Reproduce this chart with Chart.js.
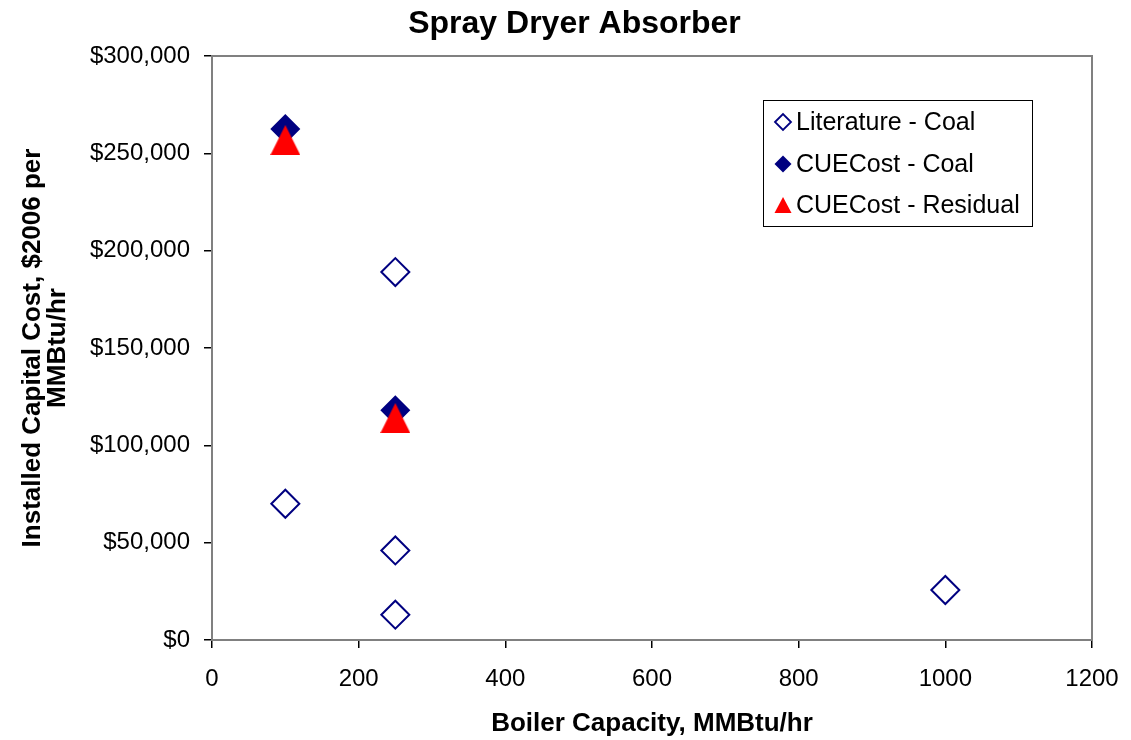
<!DOCTYPE html>
<html>
<head>
<meta charset="utf-8">
<title>Spray Dryer Absorber</title>
<script src="https://cdn.jsdelivr.net/npm/chart.js@4/dist/chart.umd.min.js"></script>
<style>
  html, body { margin: 0; padding: 0; background: #fff; }
  #wrap { width: 1131px; height: 740px; }
</style>
</head>
<body>
<div id="wrap"><canvas id="sprayChart" width="1131" height="740"></canvas></div>
<script>
// Boiler capacity (MMBtu/hr) and installed cost ($2006 per MMBtu/hr)
const literatureCapacity = [100, 250, 250, 250, 1000];
const literatureCost     = [70000, 189000, 46000, 13000, 25700];

const cueCoalCapacity = [100, 250];
const cueCoalCost     = [262500, 118000];

const cueResidualCapacity = [100, 250];
const cueResidualCost     = [256800, 114000];

const seriesLabels = ['Literature - Coal', 'CUECost - Coal', 'CUECost - Residual'];

const xTicks = [0, 200, 400, 600, 800, 1000, 1200];
const yTicks = [0, 50000, 100000, 150000, 200000, 250000, 300000];

const FONT = "'Liberation Sans', Arial, Helvetica, sans-serif";
const NAVY = '#000080';
const RED = '#ff0000';

function toPoints(xs, ys) {
    return xs.map((x, i) => ({ x: x, y: ys[i] }));
}

// Excel-style triangle marker (box centred on the value)
function triangleMarker(size, color) {
    const c = document.createElement('canvas');
    c.width = size;
    c.height = size;
    const g = c.getContext('2d');
    g.fillStyle = color;
    g.beginPath();
    g.moveTo(size / 2, 0);
    g.lineTo(size, size);
    g.lineTo(0, size);
    g.closePath();
    g.fill();
    return c;
}

// gray frame around the plot area
const plotFrame = {
    id: 'plotFrame',
    beforeDatasetsDraw(chart) {
        const a = chart.chartArea;
        const ctx = chart.ctx;
        ctx.save();
        ctx.strokeStyle = '#808080';
        ctx.lineWidth = 2;
        ctx.strokeRect(a.left, a.top, a.right - a.left, a.bottom - a.top);
        ctx.restore();
    }
};

// boxed legend inside the plot
const boxLegend = {
    id: 'boxLegend',
    afterDraw(chart) {
        const ctx = chart.ctx;
        const box = { left: 763, top: 100, width: 269, height: 126 };
        const rows = [122, 164, 205];
        const markX = 783;
        ctx.save();
        ctx.fillStyle = '#fff';
        ctx.fillRect(box.left, box.top, box.width, box.height);
        ctx.strokeStyle = '#000';
        ctx.lineWidth = 1;
        ctx.strokeRect(box.left + 0.5, box.top + 0.5, box.width, box.height);

        // hollow diamond
        let y = rows[0];
        ctx.beginPath();
        ctx.moveTo(markX - 8, y); ctx.lineTo(markX, y - 8);
        ctx.lineTo(markX + 8, y); ctx.lineTo(markX, y + 8);
        ctx.closePath();
        ctx.strokeStyle = NAVY;
        ctx.lineWidth = 1.8;
        ctx.stroke();

        // filled diamond
        y = rows[1];
        ctx.beginPath();
        ctx.moveTo(markX - 8.5, y); ctx.lineTo(markX, y - 8.5);
        ctx.lineTo(markX + 8.5, y); ctx.lineTo(markX, y + 8.5);
        ctx.closePath();
        ctx.fillStyle = NAVY;
        ctx.fill();

        // triangle
        y = rows[2];
        ctx.beginPath();
        ctx.moveTo(markX, y - 8); ctx.lineTo(markX + 8.5, y + 8);
        ctx.lineTo(markX - 8.5, y + 8);
        ctx.closePath();
        ctx.fillStyle = RED;
        ctx.fill();

        ctx.fillStyle = '#000';
        ctx.font = '25px ' + FONT;
        ctx.textBaseline = 'middle';
        ctx.textAlign = 'left';
        seriesLabels.forEach((label, i) => ctx.fillText(label, 796, rows[i] + 1));
        ctx.restore();
    }
};

const ctx = document.getElementById('sprayChart');

new Chart(ctx, {
    type: 'scatter',
    data: {
        datasets: [
            {
                label: seriesLabels[0],
                data: toPoints(literatureCapacity, literatureCost),
                pointStyle: 'rectRot',
                pointRadius: 14,
                pointBackgroundColor: 'rgba(255,255,255,0)',
                pointBorderColor: NAVY,
                pointBorderWidth: 2,
                order: 3
            },
            {
                label: seriesLabels[1],
                data: toPoints(cueCoalCapacity, cueCoalCost),
                pointStyle: 'rectRot',
                pointRadius: 15,
                pointBackgroundColor: NAVY,
                pointBorderColor: NAVY,
                pointBorderWidth: 0,
                order: 2
            },
            {
                label: seriesLabels[2],
                data: toPoints(cueResidualCapacity, cueResidualCost),
                pointStyle: triangleMarker(30, RED),
                pointRadius: 15,
                order: 1
            }
        ]
    },
    options: {
        responsive: false,
        animation: false,
        events: [],
        layout: { padding: { left: 18, right: 0, top: 0, bottom: 0 } },
        plugins: {
            legend: { display: false },
            tooltip: { enabled: false },
            title: {
                display: true,
                text: 'Spray Dryer Absorber',
                color: '#000',
                font: { family: FONT, size: 32, weight: 'bold', lineHeight: 1.2 },
                padding: { top: 5, bottom: 12.6 }
            }
        },
        scales: {
            x: {
                type: 'linear',
                min: xTicks[0],
                max: xTicks[xTicks.length - 1],
                afterBuildTicks: function(scale) {
                    scale.ticks = xTicks.map(v => ({ value: v }));
                },
                afterFit: function(scale) {
                    scale.height = 100;
                    // end labels may hang past the plot edges
                    scale.paddingLeft = 0;
                    scale.paddingRight = 0;
                },
                grid: {
                    drawOnChartArea: false,
                    drawTicks: true,
                    tickLength: 8,
                    color: '#000',
                    lineWidth: 1.5
                },
                border: { color: '#000', width: 2 },
                ticks: {
                    color: '#000',
                    padding: 17,
                    maxRotation: 0,
                    font: { family: FONT, size: 24 },
                    callback: function(value) { return String(value); }
                },
                title: {
                    display: true,
                    text: 'Boiler Capacity, MMBtu/hr',
                    color: '#000',
                    font: { family: FONT, size: 26, weight: 'bold', lineHeight: 1 },
                    padding: { top: 0, bottom: 3 }
                }
            },
            y: {
                type: 'linear',
                min: yTicks[0],
                max: yTicks[yTicks.length - 1],
                afterBuildTicks: function(scale) {
                    scale.ticks = yTicks.map(v => ({ value: v }));
                },
                afterFit: function(scale) {
                    scale.width = 194;
                    scale.paddingTop = 0;
                    scale.paddingBottom = 0;
                },
                grid: {
                    drawOnChartArea: false,
                    drawTicks: true,
                    tickLength: 8,
                    color: '#000',
                    lineWidth: 1.5
                },
                border: { color: '#222', width: 2 },
                ticks: {
                    color: '#000',
                    padding: 14,
                    font: { family: FONT, size: 24 },
                    callback: function(value) {
                        return '$' + value.toLocaleString('en-US');
                    }
                },
                title: {
                    display: true,
                    text: ['Installed Capital Cost, $2006 per', 'MMBtu/hr'],
                    color: '#000',
                    font: { family: FONT, size: 26, weight: 'bold', lineHeight: 0.96 },
                    padding: { top: 2, bottom: 0 }
                }
            },
            // empty right-hand margin so the plot ends where the frame does
            spacer: {
                type: 'linear',
                position: 'right',
                display: true,
                min: 0,
                max: 1,
                afterFit: function(scale) {
                    scale.width = 39;
                    scale.paddingTop = 0;
                    scale.paddingBottom = 0;
                },
                grid: { display: false, drawTicks: false },
                border: { display: false },
                ticks: { display: false }
            }
        }
    },
    plugins: [plotFrame, boxLegend]
});
</script>
</body>
</html>
